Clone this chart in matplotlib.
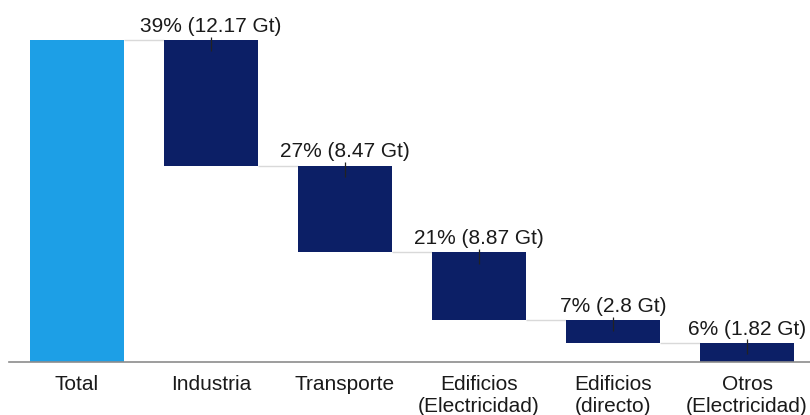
import matplotlib

matplotlib.use("Agg")
import matplotlib.pyplot as plt
import numpy as np

categories = ["Total", "Industria", "Transporte", "Edificios\n(Electricidad)",
              "Edificios\n(directo)", "Otros\n(Electricidad)"]
shares = [39, 27, 21, 7, 6]            # percent of total
emissions_gt = [12.17, 8.47, 8.87, 2.8, 1.82]

TOTAL_COLOR = "#1d9fe6"
PART_COLOR = "#0c1f66"
LINK_COLOR = "#d9d9d9"

plt.rcParams["font.family"] = ["Liberation Sans", "DejaVu Sans"]

total = float(sum(shares))
tops = total - np.concatenate([[0], np.cumsum(shares)[:-1]])
bottoms = tops - np.array(shares)

fig = plt.figure(figsize=(8.1, 4.15), dpi=100)
ax = fig.add_axes([9 / 810, 1 - 362 / 415, 1 - 9 / 810, 362 / 415])

x = np.arange(len(categories))
width = 0.70

ax.bar(x[0], total, width=width, color=TOTAL_COLOR, zorder=2)
ax.bar(x[1:], shares, bottom=bottoms, width=width, color=PART_COLOR, zorder=2)

# connector lines between consecutive steps
levels = np.concatenate([[total], bottoms])
for i in range(len(levels) - 1):
    ax.hlines(levels[i], x[i] + width / 2, x[i + 1] - width / 2,
              color=LINK_COLOR, linewidth=1, zorder=1)

# little ticks at the top of each step + labels
ax.vlines(x[1:], tops - 3.5, tops + 1.0, color="#222222", linewidth=0.9, zorder=3)
for xi, top, pct, gt in zip(x[1:], tops, shares, emissions_gt):
    ax.annotate(f"{pct}% ({gt:g} Gt)", (xi, top), xytext=(0, 3),
                textcoords="offset points", ha="center", va="bottom",
                fontsize=15, color="#1a1a1a")

ax.set_xlim(-0.507, 5.47)
ax.set_ylim(0, 112.4)
ax.set_xticks(x)
ax.set_xticklabels(categories, fontsize=15, color="#1a1a1a", linespacing=1.2)
ax.tick_params(axis="x", length=0, pad=9)
ax.set_yticks([])
for side in ("left", "right", "top"):
    ax.spines[side].set_visible(False)
ax.spines["bottom"].set_color("#8c8c8c")
ax.spines["bottom"].set_linewidth(1.2)

fig.savefig("out.png", dpi=100)
